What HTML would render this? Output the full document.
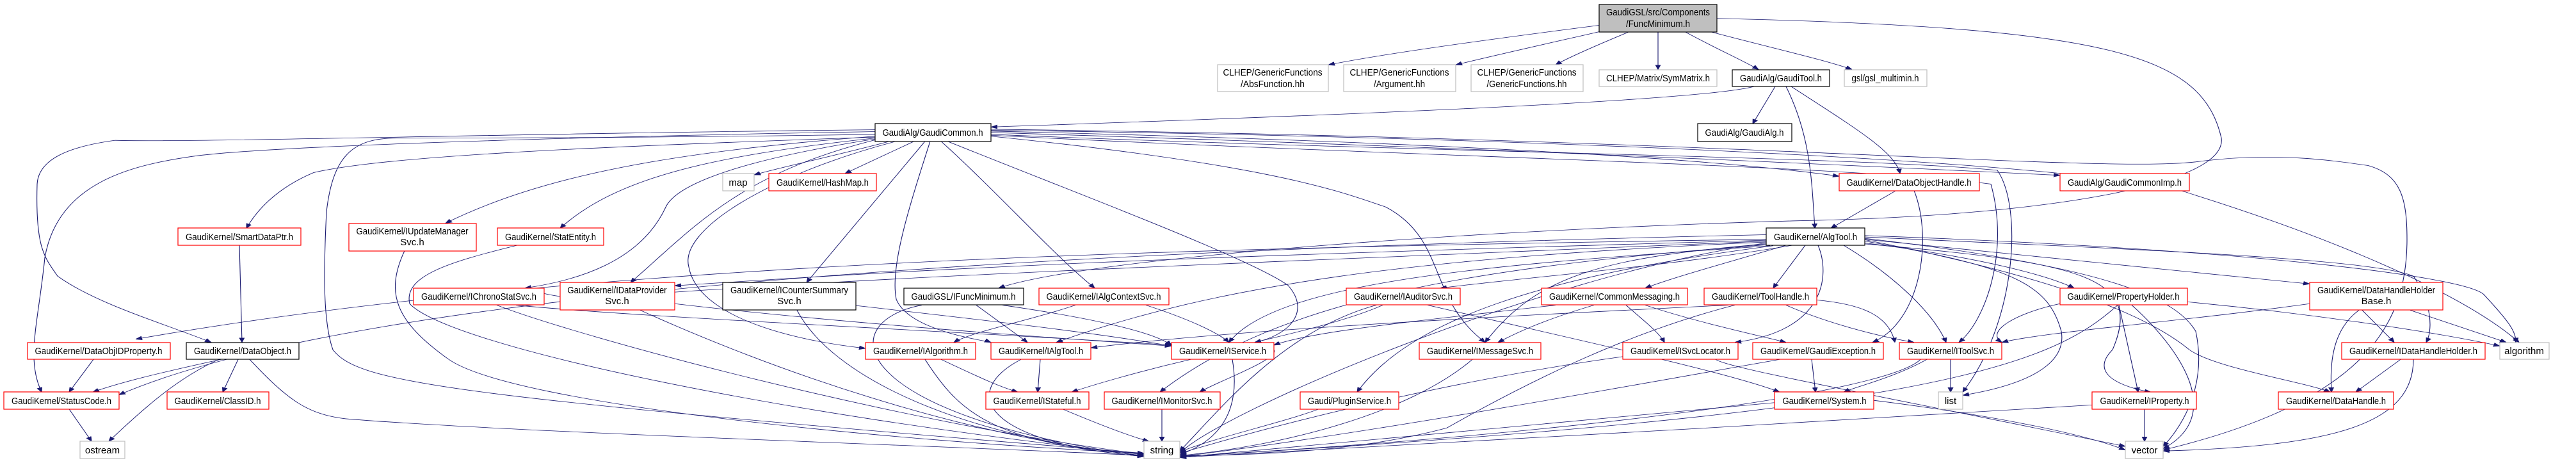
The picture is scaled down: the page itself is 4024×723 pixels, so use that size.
<!DOCTYPE html>
<html><head><meta charset="utf-8"><style>
html,body{margin:0;padding:0;background:#fff;overflow:hidden}
svg{display:block}
text{font-family:"Liberation Sans",sans-serif;font-size:15px;fill:#000;text-anchor:middle}
.e{fill:none;stroke:#191970;stroke-width:1.1}
.r{fill:#fff;stroke:#ff0000;stroke-width:1.2}
.b{fill:#fff;stroke:#000;stroke-width:1.2}
.g{fill:#fff;stroke:#bfbfbf;stroke-width:1.2}
</style></head><body>
<svg width="4024" height="723" viewBox="0 0 4024 723" xmlns="http://www.w3.org/2000/svg">
<defs><marker id="a" viewBox="0 0 10 10" refX="10" refY="5" markerWidth="10" markerHeight="10" markerUnits="userSpaceOnUse" orient="auto"><path d="M0,1 L10,5 L0,9 z" fill="#191970" stroke="#191970"/></marker></defs>
<g transform="scale(1,0.7186)">
<g class="e" marker-end="url(#a)">
<path d="M2498,55 C2300,90 2150,120 2075,141"/>
<path d="M2498,69 C2400,100 2320,125 2274,141"/>
<path d="M2545,69 C2500,95 2450,125 2430,141"/>
<path d="M2590,69 L2590,151"/>
<path d="M2632,69 C2680,105 2720,130 2747,151"/>
<path d="M2672,69 C2770,105 2850,130 2893,151"/>
<path d="M2682,40 C3300,60 3440,120 3470,300 C3480,400 3200,470 2800,480 C2300,500 1700,560 1560,626"/>
<path d="M2740,188 C2650,220 2100,250 1548,276"/>
<path d="M2773,188 L2738,269"/>
<path d="M2790,188 C2830,300 2830,400 2835,496"/>
<path d="M2798,188 C2900,280 2960,330 2968,377"/>
<path d="M2962,414 L2860,496"/>
<path d="M2990,414 C3020,520 3000,700 2925,744"/>
<path d="M1390,307 C1300,340 1230,360 1178,380"/>
<path d="M1428,307 L1320,377"/>
<path d="M1445,307 L1260,614"/>
<path d="M1453,307 C1420,450 1390,580 1400,650 C1420,720 1540,740 1548,744"/>
<path d="M1470,307 C1560,420 1650,560 1710,626"/>
<path d="M1480,307 C1700,430 1950,560 2012,620 C2050,680 2010,730 1960,744"/>
<path d="M1400,307 C1200,380 1060,500 1076,580 C1090,690 1240,740 1352,757"/>
<path d="M1367,298 C900,320 600,340 490,375 C430,410 400,460 385,496"/>
<path d="M1367,296 C1050,330 850,380 696,485"/>
<path d="M1367,300 C1100,340 960,390 875,496"/>
<path d="M1367,302 C1100,360 1050,420 1040,450 C1000,570 900,610 820,626"/>
<path d="M1367,304 C1150,380 1080,500 985,614"/>
<path d="M1367,292 C1000,300 700,300 620,300 C550,300 520,340 510,460 C505,600 505,700 520,760 C560,830 680,860 1787,985"/>
<path d="M1367,286 C800,300 400,320 300,340 C200,360 90,400 70,560 C60,700 40,780 65,852"/>
<path d="M1367,282 C800,290 300,310 180,305 C100,320 60,350 58,400 C55,540 70,560 90,600 C150,660 250,700 330,744"/>
<path d="M1548,285 C2000,300 2600,330 2873,383"/>
<path d="M1548,288 C2300,320 2900,360 3218,381"/>
<path d="M1548,283 C2500,300 3300,360 3420,420 C3650,520 3850,640 3935,744"/>
<path d="M1548,281 C2700,300 3300,380 3440,350 C3560,330 3650,350 3700,360 C3750,380 3760,430 3760,520 C3760,700 3700,870 3379,978"/>
<path d="M1548,292 C2200,330 2900,340 3120,370 C3160,450 3150,700 3066,852"/>
<path d="M1548,294 C2200,340 2900,360 3110,400 C3140,550 3100,700 3060,744"/>
<path d="M1548,296 C2000,360 2100,420 2165,450 C2260,520 2230,650 2320,744"/>
<path d="M2800,533 C2600,580 2400,600 2250,626"/>
<path d="M2790,533 C2700,570 2620,600 2570,626"/>
<path d="M2820,533 L2770,626"/>
<path d="M2913,528 C3100,560 3200,600 3240,626"/>
<path d="M2913,520 C3200,560 3500,600 3608,617"/>
<path d="M2913,515 C3300,540 3700,560 3770,600 C3800,660 3800,720 3790,744"/>
<path d="M2913,512 C3500,540 3850,600 3880,640 C3920,700 3930,720 3930,744"/>
<path d="M2840,533 C2860,600 2850,720 2710,744"/>
<path d="M2880,533 C2960,600 3020,680 3040,744"/>
<path d="M2759,530 C2500,560 2400,600 2320,744"/>
<path d="M2765,534 C2400,570 2000,600 1920,744"/>
<path d="M2759,526 C2200,560 1900,620 1650,744"/>
<path d="M2913,530 C3250,570 3350,600 3300,760 C3250,830 3360,852 3360,852"/>
<path d="M2770,534 C2400,600 2200,700 2120,852"/>
<path d="M2759,520 C1800,540 900,570 212,737"/>
<path d="M2759,522 C1800,560 1500,580 1054,621"/>
<path d="M2759,524 C1800,580 1400,600 1000,640 C900,660 850,640 820,626"/>
<path d="M2759,532 C2300,580 2000,650 1812,852"/>
<path d="M2913,524 C3150,580 3200,620 3220,720 C3230,800 3150,840 3066,859"/>
<path d="M2913,518 C3300,580 3400,650 3430,720 C3450,850 3400,940 3379,970"/>
<path d="M2913,521 C3200,600 3350,680 3420,760 C3460,800 3600,830 3640,852"/>
<path d="M2759,510 C1800,540 600,610 186,858"/>
<path d="M2759,528 C2400,600 1900,900 1843,985"/>
<path d="M2160,663 C2100,700 2000,730 1960,744"/>
<path d="M2230,663 C2500,750 2700,810 2780,852"/>
<path d="M2150,663 C2000,720 1900,900 1843,980"/>
<path d="M2490,663 C2400,700 2360,730 2340,744"/>
<path d="M2540,663 C2570,700 2590,720 2600,744"/>
<path d="M2570,663 C2650,700 2750,730 2790,744"/>
<path d="M2430,663 C2200,700 2050,720 1990,750"/>
<path d="M2710,663 C2550,720 2400,820 2260,930 C2100,990 1900,990 1843,990"/>
<path d="M2790,663 C2850,700 2930,730 2990,744"/>
<path d="M2838,652 C2900,660 2950,680 2960,744"/>
<path d="M2700,663 C2300,690 1900,720 1704,756"/>
<path d="M3310,663 L3340,852"/>
<path d="M3330,663 C3400,750 3480,900 3379,975"/>
<path d="M3417,656 C3600,680 3800,720 3905,752"/>
<path d="M3218,660 C3150,680 3100,720 3127,744"/>
<path d="M3308,663 C3200,800 3000,900 1843,992"/>
<path d="M3690,674 L3740,744"/>
<path d="M3685,674 C3640,720 3640,800 3642,852"/>
<path d="M3765,674 L3915,744"/>
<path d="M3608,660 C3400,700 3200,720 3127,744"/>
<path d="M3750,781 L3680,852"/>
<path d="M3770,781 C3770,920 3650,970 3379,980"/>
<path d="M374,533 L378,744"/>
<path d="M345,781 C250,810 190,830 145,852"/>
<path d="M372,781 L348,852"/>
<path d="M342,781 C280,820 230,880 170,959"/>
<path d="M390,781 C450,870 480,900 540,910 C800,940 1500,970 1787,990"/>
<path d="M146,781 L108,852"/>
<path d="M108,889 L143,959"/>
<path d="M632,545 C600,640 620,700 700,780 C800,880 1400,960 1787,985"/>
<path d="M808,533 C700,570 630,600 640,660 C700,750 1200,900 1787,988"/>
<path d="M776,663 C900,730 1400,920 1787,987"/>
<path d="M806,663 C1000,690 1500,720 1830,750"/>
<path d="M1000,674 C1200,800 1500,950 1787,990"/>
<path d="M1054,660 C1300,700 1600,730 1830,752"/>
<path d="M1245,674 C1300,820 1500,950 1787,990"/>
<path d="M1337,664 C1500,690 1700,720 1830,752"/>
<path d="M1440,663 C1300,700 1320,900 1787,992"/>
<path d="M1525,663 L1605,744"/>
<path d="M1566,663 C1700,690 1800,720 1830,750"/>
<path d="M1680,663 C1600,700 1520,720 1490,744"/>
<path d="M1790,663 C1850,690 1900,720 1920,744"/>
<path d="M1470,781 C1530,820 1560,840 1590,852"/>
<path d="M1445,781 C1500,900 1550,960 1787,992"/>
<path d="M1625,781 L1621,852"/>
<path d="M1595,781 C1500,850 1530,960 1787,992"/>
<path d="M1860,781 C1770,810 1700,840 1674,852"/>
<path d="M1925,781 C1940,900 1900,960 1843,988"/>
<path d="M1990,760 C2000,780 1900,830 1874,852"/>
<path d="M1815,889 L1815,959"/>
<path d="M1660,889 C1730,930 1770,950 1795,959"/>
<path d="M2300,781 C2200,900 2000,970 1843,990"/>
<path d="M2680,781 C2700,800 2900,850 3320,970"/>
<path d="M2535,775 C2300,820 2050,900 1843,985"/>
<path d="M2830,781 L2836,852"/>
<path d="M2780,781 C2500,850 2100,950 1843,992"/>
<path d="M3010,781 C2960,820 2900,840 2880,852"/>
<path d="M3047,781 L3047,852"/>
<path d="M3000,781 C2950,850 2500,940 1843,992"/>
<path d="M2060,889 C2000,920 1900,950 1843,982"/>
<path d="M2927,870 C3100,900 3250,940 3320,978"/>
<path d="M2772,875 C2400,920 2100,960 1843,994"/>
<path d="M3350,889 L3350,959"/>
<path d="M3268,880 C2800,920 2300,960 1843,994"/>
</g>
</g>
<g>
<rect x="2498" y="7" width="184" height="43" style="fill:#bfbfbf;stroke:#000;stroke-width:1.2"/><text x="2590" y="24" textLength="162" lengthAdjust="spacingAndGlyphs">GaudiGSL/src/Components</text><text x="2590" y="42" textLength="100" lengthAdjust="spacingAndGlyphs">/FuncMinimum.h</text>
<rect class="g" x="1902" y="101" width="173" height="42"/><text x="1988" y="118" textLength="155" lengthAdjust="spacingAndGlyphs">CLHEP/GenericFunctions</text><text x="1988" y="136" textLength="100" lengthAdjust="spacingAndGlyphs">/AbsFunction.hh</text>
<rect class="g" x="2099" y="101" width="175" height="42"/><text x="2186" y="118" textLength="155" lengthAdjust="spacingAndGlyphs">CLHEP/GenericFunctions</text><text x="2186" y="136" textLength="80" lengthAdjust="spacingAndGlyphs">/Argument.hh</text>
<rect class="g" x="2298" y="101" width="175" height="42"/><text x="2385" y="118" textLength="155" lengthAdjust="spacingAndGlyphs">CLHEP/GenericFunctions</text><text x="2385" y="136" textLength="125" lengthAdjust="spacingAndGlyphs">/GenericFunctions.hh</text>
<rect class="g" x="2498" y="109" width="184" height="26"/><text x="2590" y="127" textLength="162" lengthAdjust="spacingAndGlyphs">CLHEP/Matrix/SymMatrix.h</text>
<rect class="b" x="2706" y="109" width="152" height="26"/><text x="2782" y="127" textLength="128" lengthAdjust="spacingAndGlyphs">GaudiAlg/GaudiTool.h</text>
<rect class="g" x="2881" y="109" width="129" height="26"/><text x="2945" y="127" textLength="105" lengthAdjust="spacingAndGlyphs">gsl/gsl_multimin.h</text>
<rect class="b" x="1367" y="193" width="181" height="28"/><text x="1457" y="212" textLength="157" lengthAdjust="spacingAndGlyphs">GaudiAlg/GaudiCommon.h</text>
<rect class="b" x="2652" y="193" width="147" height="28"/><text x="2725" y="212" textLength="123" lengthAdjust="spacingAndGlyphs">GaudiAlg/GaudiAlg.h</text>
<rect class="g" x="1129" y="271" width="49" height="27"/><text x="1153" y="290">map</text>
<rect class="r" x="1201" y="271" width="168" height="27"/><text x="1285" y="290" textLength="144" lengthAdjust="spacingAndGlyphs">GaudiKernel/HashMap.h</text>
<rect class="r" x="2873" y="271" width="219" height="27"/><text x="2982" y="290" textLength="195" lengthAdjust="spacingAndGlyphs">GaudiKernel/DataObjectHandle.h</text>
<rect class="r" x="3218" y="271" width="202" height="27"/><text x="3319" y="290" textLength="178" lengthAdjust="spacingAndGlyphs">GaudiAlg/GaudiCommonImp.h</text>
<rect class="r" x="278" y="356" width="192" height="27"/><text x="374" y="375" textLength="168" lengthAdjust="spacingAndGlyphs">GaudiKernel/SmartDataPtr.h</text>
<rect class="r" x="545" y="349" width="199" height="43"/><text x="644" y="366" textLength="175" lengthAdjust="spacingAndGlyphs">GaudiKernel/IUpdateManager</text><text x="644" y="383">Svc.h</text>
<rect class="r" x="777" y="356" width="166" height="27"/><text x="860" y="375" textLength="142" lengthAdjust="spacingAndGlyphs">GaudiKernel/StatEntity.h</text>
<rect class="b" x="2759" y="356" width="154" height="27"/><text x="2836" y="375" textLength="130" lengthAdjust="spacingAndGlyphs">GaudiKernel/AlgTool.h</text>
<rect class="r" x="646" y="450" width="204" height="26"/><text x="748" y="468" textLength="180" lengthAdjust="spacingAndGlyphs">GaudiKernel/IChronoStatSvc.h</text>
<rect class="r" x="875" y="441" width="179" height="43"/><text x="964" y="458" textLength="155" lengthAdjust="spacingAndGlyphs">GaudiKernel/IDataProvider</text><text x="964" y="475">Svc.h</text>
<rect class="b" x="1129" y="441" width="208" height="43"/><text x="1233" y="458" textLength="184" lengthAdjust="spacingAndGlyphs">GaudiKernel/ICounterSummary</text><text x="1233" y="475">Svc.h</text>
<rect class="b" x="1412" y="450" width="187" height="26"/><text x="1505" y="468" textLength="163" lengthAdjust="spacingAndGlyphs">GaudiGSL/IFuncMinimum.h</text>
<rect class="r" x="1623" y="450" width="203" height="26"/><text x="1724" y="468" textLength="179" lengthAdjust="spacingAndGlyphs">GaudiKernel/IAlgContextSvc.h</text>
<rect class="r" x="2103" y="450" width="178" height="26"/><text x="2192" y="468" textLength="154" lengthAdjust="spacingAndGlyphs">GaudiKernel/IAuditorSvc.h</text>
<rect class="r" x="2408" y="450" width="228" height="26"/><text x="2522" y="468" textLength="204" lengthAdjust="spacingAndGlyphs">GaudiKernel/CommonMessaging.h</text>
<rect class="r" x="2662" y="450" width="176" height="26"/><text x="2750" y="468" textLength="152" lengthAdjust="spacingAndGlyphs">GaudiKernel/ToolHandle.h</text>
<rect class="r" x="3218" y="450" width="199" height="26"/><text x="3317" y="468" textLength="175" lengthAdjust="spacingAndGlyphs">GaudiKernel/PropertyHolder.h</text>
<rect class="r" x="3608" y="441" width="208" height="43"/><text x="3712" y="458" textLength="184" lengthAdjust="spacingAndGlyphs">GaudiKernel/DataHandleHolder</text><text x="3712" y="475">Base.h</text>
<rect class="r" x="43" y="535" width="223" height="26"/><text x="154" y="553" textLength="199" lengthAdjust="spacingAndGlyphs">GaudiKernel/DataObjIDProperty.h</text>
<rect class="b" x="291" y="535" width="176" height="26"/><text x="379" y="553" textLength="152" lengthAdjust="spacingAndGlyphs">GaudiKernel/DataObject.h</text>
<rect class="r" x="1352" y="535" width="172" height="26"/><text x="1438" y="553" textLength="148" lengthAdjust="spacingAndGlyphs">GaudiKernel/IAlgorithm.h</text>
<rect class="r" x="1548" y="535" width="156" height="26"/><text x="1626" y="553" textLength="132" lengthAdjust="spacingAndGlyphs">GaudiKernel/IAlgTool.h</text>
<rect class="r" x="1830" y="535" width="160" height="26"/><text x="1910" y="553" textLength="136" lengthAdjust="spacingAndGlyphs">GaudiKernel/IService.h</text>
<rect class="r" x="2217" y="535" width="190" height="26"/><text x="2312" y="553" textLength="166" lengthAdjust="spacingAndGlyphs">GaudiKernel/IMessageSvc.h</text>
<rect class="r" x="2535" y="535" width="180" height="26"/><text x="2625" y="553" textLength="156" lengthAdjust="spacingAndGlyphs">GaudiKernel/ISvcLocator.h</text>
<rect class="r" x="2738" y="535" width="204" height="26"/><text x="2840" y="553" textLength="180" lengthAdjust="spacingAndGlyphs">GaudiKernel/GaudiException.h</text>
<rect class="r" x="2967" y="535" width="160" height="26"/><text x="3047" y="553" textLength="136" lengthAdjust="spacingAndGlyphs">GaudiKernel/IToolSvc.h</text>
<rect class="r" x="3658" y="535" width="224" height="26"/><text x="3770" y="553" textLength="200" lengthAdjust="spacingAndGlyphs">GaudiKernel/IDataHandleHolder.h</text>
<rect class="g" x="3905" y="535" width="77" height="26"/><text x="3943" y="553">algorithm</text>
<rect class="r" x="6" y="612" width="180" height="27"/><text x="96" y="631" textLength="156" lengthAdjust="spacingAndGlyphs">GaudiKernel/StatusCode.h</text>
<rect class="r" x="261" y="612" width="159" height="27"/><text x="340" y="631" textLength="135" lengthAdjust="spacingAndGlyphs">GaudiKernel/ClassID.h</text>
<rect class="r" x="1540" y="612" width="161" height="27"/><text x="1620" y="631" textLength="137" lengthAdjust="spacingAndGlyphs">GaudiKernel/IStateful.h</text>
<rect class="r" x="1725" y="612" width="181" height="27"/><text x="1815" y="631" textLength="157" lengthAdjust="spacingAndGlyphs">GaudiKernel/IMonitorSvc.h</text>
<rect class="r" x="2031" y="612" width="154" height="27"/><text x="2108" y="631" textLength="130" lengthAdjust="spacingAndGlyphs">Gaudi/PluginService.h</text>
<rect class="r" x="2772" y="612" width="155" height="27"/><text x="2850" y="631" textLength="131" lengthAdjust="spacingAndGlyphs">GaudiKernel/System.h</text>
<rect class="g" x="3028" y="612" width="38" height="27"/><text x="3047" y="631">list</text>
<rect class="r" x="3268" y="612" width="163" height="27"/><text x="3350" y="631" textLength="139" lengthAdjust="spacingAndGlyphs">GaudiKernel/IProperty.h</text>
<rect class="r" x="3559" y="612" width="180" height="27"/><text x="3649" y="631" textLength="156" lengthAdjust="spacingAndGlyphs">GaudiKernel/DataHandle.h</text>
<rect class="g" x="125" y="689" width="70" height="27"/><text x="160" y="708">ostream</text>
<rect class="g" x="1787" y="689" width="56" height="27"/><text x="1815" y="708">string</text>
<rect class="g" x="3320" y="689" width="59" height="27"/><text x="3350" y="708">vector</text>
</g>
</svg>
</body></html>
